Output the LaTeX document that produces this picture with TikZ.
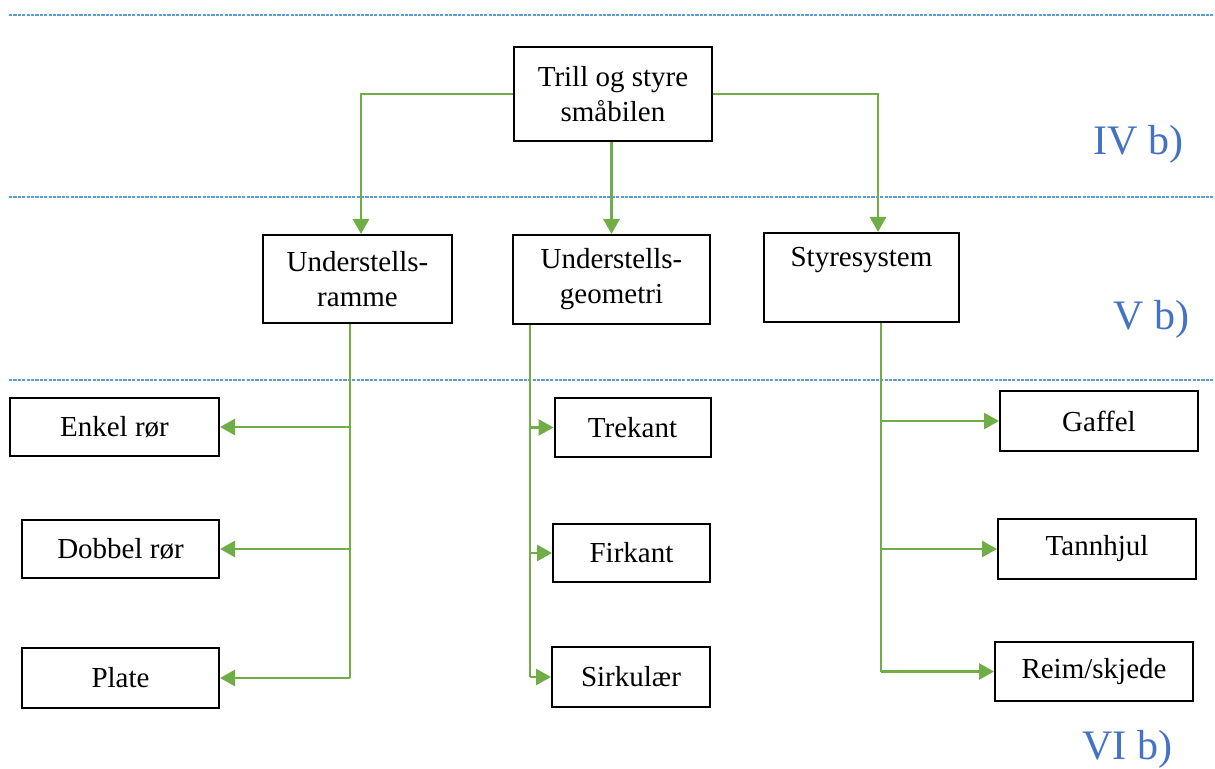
\documentclass[tikz,border=0pt]{standalone}
\usepackage{fontspec}
\setmainfont{Liberation Serif}
\usetikzlibrary{arrows.meta, positioning}
\definecolor{linegreen}{HTML}{70AD47}
\definecolor{levelblue}{HTML}{4472C4}
\definecolor{dashblue}{HTML}{5B9BD5}
\tikzstyle{line} = [draw=linegreen, line width=1.4pt, -{Triangle[length=7.5pt,width=8pt]}]
\tikzstyle{trunk} = [draw=linegreen, line width=1.4pt]
\tikzstyle{block} = [rectangle, draw, line width=1pt, align=center, inner sep=0pt, font=\fontsize{14.5}{17.5}\selectfont]
\tikzstyle{level} = [text=levelblue, font=\fontsize{21}{25}\selectfont, anchor=base west, inner sep=0pt]
\tikzstyle{divider} = [draw=dashblue, line width=0.6pt, dash pattern=on 1.6pt off 0.6pt]

\begin{document}
\begin{tikzpicture}[x=0.5pt, y=-0.5pt]
\useasboundingbox (0,0) rectangle (1215,769);
% level dividers
\coordinate (d1) at (9,15);
\coordinate (d2) at (9,197);
\coordinate (d3) at (9,380);
\path [divider] (d1) -- (d1 -| 1215,0);
\path [divider] (d2) -- (d2 -| 1215,0);
\path [divider] (d3) -- (d3 -| 1215,0);
\node [level] (ivb) at (1093,155) {IV b)};
\node [level] (vb) at (1113,330) {V b)};
\node [level] (vib) at (1082,759) {VI b)};
% main function
\node [block, minimum width=99pt, minimum height=47pt] (bil) at (613,94) {Trill og styre\\småbilen};
% sub functions
\node [block, minimum width=94.5pt, minimum height=44pt] (ramme) at (357.5,279) {Understells-\\ramme};
\node [block, minimum width=98.5pt, minimum height=44.5pt] (geometri) at (611.5,279.5) {Understells-\\geometri};
\node [block, minimum width=97.5pt, minimum height=44.5pt] (styre) at (861.5,277.5) {Styresystem\\[-2pt]\strut};
% solutions
\node [block, minimum width=104.5pt, minimum height=29pt] (enkel) at (114.5,427) {Enkel rør};
\node [block, minimum width=98.5pt, minimum height=29pt] (dobbel) at (120.5,549) {Dobbel rør};
\node [block, minimum width=98.5pt, minimum height=30pt] (plate) at (120.5,678) {Plate};
\node [block, minimum width=78pt, minimum height=29.5pt] (trekant) at (632.5,427.5) {Trekant};
\node [block, minimum width=78.5pt, minimum height=29pt] (firkant) at (631.5,553) {Firkant};
\node [block, minimum width=79pt, minimum height=30pt] (sirkulaer) at (631,677) {Sirkulær};
\node [block, minimum width=99pt, minimum height=30pt] (gaffel) at (1099,421) {Gaffel};
\node [block, minimum width=99pt, minimum height=30pt] (tannhjul) at (1097,549) {Tannhjul};
\node [block, minimum width=99pt, minimum height=29.5pt] (reim) at (1094,671.5) {Reim/skjede};
% top level arrows
\path [line] (bil.west) -| ([xshift=1.75pt]ramme.north);
\path [line] (bil.south -| geometri.north) -- (geometri.north);
\path [line] (bil.east) -| ([xshift=8.25pt]styre.north);
% branches
\coordinate (rammeTrunk) at (350,323);
\coordinate (geoTrunk) at (530,323);
\coordinate (styreTrunk) at (881,322);
\path [trunk] (ramme.south -| rammeTrunk) -- (rammeTrunk |- plate.east);
\path [line] (rammeTrunk |- enkel.east) -- (enkel.east);
\path [line] (rammeTrunk |- dobbel.east) -- (dobbel.east);
\path [line] (rammeTrunk |- plate.east) -- (plate.east);
\path [trunk] (geometri.south -| geoTrunk) -- (geoTrunk |- sirkulaer.west);
\path [line] (geoTrunk |- trekant.west) -- (trekant.west);
\path [line] (geoTrunk |- firkant.west) -- (firkant.west);
\path [line] (geoTrunk |- sirkulaer.west) -- (sirkulaer.west);
\path [trunk] (styre.south -| styreTrunk) -- (styreTrunk |- reim.west);
\path [line] (styreTrunk |- gaffel.west) -- (gaffel.west);
\path [line] (styreTrunk |- tannhjul.west) -- (tannhjul.west);
\path [line] (styreTrunk |- reim.west) -- (reim.west);
\end{tikzpicture}
\end{document}
